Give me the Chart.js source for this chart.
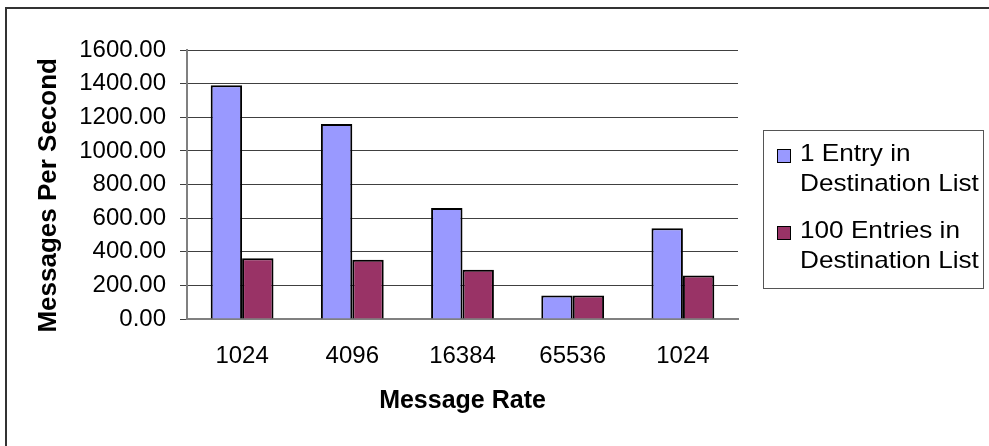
<!DOCTYPE html>
<html>
<head>
<meta charset="utf-8">
<script src="https://cdn.jsdelivr.net/npm/chart.js@4"></script>
<style>
  html, body { margin: 0; padding: 0; background: #fff; }
  #wrap { width: 989px; height: 446px; }
</style>
</head>
<body>
<div id="wrap"><canvas id="myChart" width="989" height="446"></canvas></div>
<script>
// Chart data
var categories = ['1024', '4096', '16384', '65536', '1024'];
var oneEntry = [1390, 1160, 660, 140, 540];        // 1 Entry in Destination List
var hundredEntries = [362, 352, 293, 140, 259];    // 100 Entries in Destination List
var seriesLines = [['1 Entry in', 'Destination List'], ['100 Entries in', 'Destination List']];
var yTicks = [0, 200, 400, 600, 800, 1000, 1200, 1400, 1600];

var FONT = "'Liberation Sans', Arial, sans-serif";

// Outer frame and white background
var framePlugin = {
    id: 'frame',
    beforeDraw: function(chart) {
        var ctx = chart.ctx;
        ctx.save();
        ctx.fillStyle = '#fff';
        ctx.fillRect(0, 0, chart.width, chart.height);
        ctx.strokeStyle = '#333';
        ctx.lineWidth = 2;
        ctx.strokeRect(6, 8, chart.width + 20, chart.height + 20);
        ctx.restore();
    }
};

// Boxed legend with two-line entries
var legendPlugin = {
    id: 'boxLegend',
    afterDraw: function(chart) {
        var ctx = chart.ctx;
        ctx.save();
        ctx.strokeStyle = '#555';
        ctx.lineWidth = 1;
        ctx.strokeRect(763.5, 130.5, 220, 158);
        var baseY = [161, 238];
        chart.data.datasets.forEach(function(ds, i) {
            var y = baseY[i];
            ctx.fillStyle = ds.backgroundColor;
            ctx.fillRect(777, y - 12, 14, 14);
            ctx.strokeStyle = '#000';
            ctx.lineWidth = 1;
            ctx.strokeRect(777.5, y - 11.5, 13, 13);
            ctx.fillStyle = '#000';
            ctx.font = '24px ' + FONT;
            ctx.textBaseline = 'alphabetic';
            seriesLines[i].forEach(function(line, j) {
                // text in the original is a bit stretched sideways
                ctx.save();
                ctx.translate(800, y + j * 30);
                ctx.scale(1.09, 1);
                ctx.fillText(line, 0, 0);
                ctx.restore();
            });
        });
        ctx.restore();
    }
};

var ctx = document.getElementById('myChart').getContext('2d');
var myChart = new Chart(ctx, {
    type: 'bar',
    data: {
        labels: categories,
        datasets: [{
            label: seriesLines[0].join(' '),
            data: oneEntry,
            backgroundColor: '#9999FF',
            borderColor: '#000',
            borderWidth: 2
        }, {
            label: seriesLines[1].join(' '),
            data: hundredEntries,
            backgroundColor: '#993366',
            borderColor: '#000',
            borderWidth: 2
        }]
    },
    options: {
        responsive: false,
        animation: false,
        layout: { padding: { left: 0, right: 251, top: 50, bottom: 0 } },
        plugins: {
            legend: { display: false },
            tooltip: { enabled: false }
        },
        datasets: {
            bar: { categoryPercentage: 0.57, barPercentage: 1.0 }
        },
        scales: {
            x: {
                grid: { display: true, drawOnChartArea: false, drawTicks: false, color: 'rgba(0,0,0,0)' },
                border: { display: true, color: '#808080', width: 2 },
                ticks: { color: '#000', font: { family: FONT, size: 24 }, padding: 23, maxRotation: 0 },
                title: {
                    display: true,
                    text: 'Message Rate',
                    color: '#000',
                    font: { family: FONT, size: 25, weight: 'bold' },
                    padding: { top: 0, bottom: 30 }
                },
                afterFit: function(scale) { scale.height = 127; }
            },
            y: {
                min: 0,
                max: 1600,
                afterBuildTicks: function(scale) {
                    scale.ticks = yTicks.map(function(v) { return { value: v }; });
                },
                grid: { color: '#404040', lineWidth: 1, tickLength: 7 },
                border: { display: true, color: '#808080', width: 2 },
                ticks: {
                    color: '#000',
                    font: { family: FONT, size: 24 },
                    padding: 14,
                    callback: function(v) { return Number(v).toFixed(2); }
                },
                title: {
                    display: true,
                    // trailing spaces nudge the title down a little, as in the original
                    text: 'Messages Per Second   ',
                    color: '#000',
                    font: { family: FONT, size: 26, weight: 'bold' },
                    padding: { top: 33, bottom: 0 }
                },
                afterFit: function(scale) { scale.width = 187; }
            }
        }
    },
    plugins: [framePlugin, legendPlugin]
});
</script>
</body>
</html>
